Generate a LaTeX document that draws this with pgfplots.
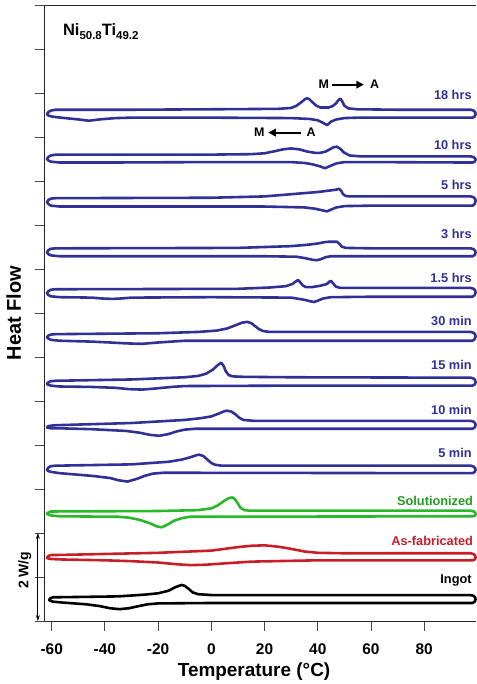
\documentclass[border=0pt]{standalone}
\usepackage{fontspec}
\setmainfont{Liberation Sans}
\usepackage{pgfplots}
\pgfplotsset{compat=1.18}
\usetikzlibrary{arrows.meta}
\definecolor{DscBlue}{RGB}{48,48,150}
\definecolor{DscGreen}{RGB}{40,185,40}
\definecolor{DscRed}{RGB}{200,30,40}
\definecolor{TickGray}{RGB}{70,70,70}

\begin{document}
\begin{tikzpicture}
\begin{axis}[
    scale only axis, width=433pt, height=618pt,
    xmin=-62.62, xmax=99.6, ymin=0, ymax=14,
    axis x line*=bottom, axis y line*=left,
    xtick={-60,-40,-20,0,20,40,60,80},
    xticklabels={-60,-40,-20,0,20,40,60,80},
    ytick={0,1,...,14}, yticklabels={},
    xtick pos=left, ytick pos=left,
    tick align=outside, major tick length=10pt,
    tick style={TickGray, line width=0.9pt},
    axis line style={black!85, line width=0.9pt},
    xticklabel style={font=\bfseries\fontsize{15.5}{17}\selectfont, yshift=-9pt},
    xlabel={Temperature (°C)},
    xlabel style={font=\bfseries\fontsize{19}{22}\selectfont, at={(axis description cs:0.485,-0.0825)}, anchor=center},
    ylabel={Heat Flow},
    ylabel style={font=\bfseries\fontsize{20}{24}\selectfont, at={(axis description cs:-0.0716,0.5)}, anchor=center},
    clip=false,
    every axis plot/.append style={line width=2.6pt, line join=round, line cap=round},
]
% bounding frame of the whole figure
\path (axis cs:-79.43,14.114) rectangle (axis cs:99.66,-1.382);
% top frame line
\draw[black!85, line width=0.9pt] (rel axis cs:0,1) -- (rel axis cs:1,1);

% 18 hrs
\addplot[DscBlue] coordinates {
(-61.8,11.52) (-61.2,11.57) (-60.3,11.60) (-58.5,11.62) (-30,11.62) (0,11.63) (25,11.64) (30,11.66) (32,11.71) (34,11.80) (35.2,11.86) (36,11.88) (36.8,11.86) (38,11.79) (39.5,11.71) (41,11.67) (44,11.67) (45.5,11.70) (46.8,11.76) (47.8,11.84) (48.5,11.87) (49.2,11.81) (50,11.71) (51.5,11.65) (55,11.63) (70,11.62) (97.5,11.62) (98.6,11.60) (99.2,11.56) (99.3,11.52) (99.0,11.47) (98.2,11.44) (97.5,11.44)
(70,11.44) (55,11.44) (50,11.43) (47,11.40) (45,11.35) (43.5,11.27) (42,11.32) (40,11.38) (37,11.41) (30,11.43) (0,11.44) (-30,11.44) (-36,11.43) (-42,11.40) (-46,11.37) (-50,11.40) (-55,11.43) (-58,11.45) (-60.3,11.47) (-61.3,11.49) (-61.8,11.52)
};
% 10 hrs
\addplot[DscBlue] coordinates {
(-61.8,10.50) (-61.2,10.55) (-60.3,10.58) (-58.5,10.60) (0,10.60) (15,10.61) (20,10.63) (24,10.68) (27,10.72) (30,10.74) (33,10.72) (36,10.67) (39,10.64) (41,10.64) (43,10.67) (44.5,10.72) (46,10.77) (47.2,10.78) (48.5,10.73) (50,10.64) (52,10.58) (56,10.56) (97.5,10.56) (98.6,10.54) (99.2,10.51) (99.3,10.48) (99.0,10.44) (98.2,10.42) (97.5,10.42)
(60,10.43) (50,10.43) (47,10.40) (45,10.35) (42.7,10.29) (41,10.33) (38,10.38) (35,10.41) (30,10.43) (0,10.43) (-40,10.42) (-57,10.42) (-60.3,10.44) (-61.3,10.47) (-61.8,10.50)
};
% 5 hrs
\addplot[DscBlue] coordinates {
(-61.8,9.52) (-61.2,9.57) (-60.3,9.60) (-58.5,9.61) (0,9.62) (20,9.65) (30,9.70) (40,9.75) (44,9.78) (46.5,9.80) (48,9.82) (48.8,9.78) (49.5,9.70) (50.5,9.66) (52,9.65) (97.5,9.65) (98.6,9.63) (99.2,9.59) (99.3,9.54) (99.0,9.48) (98.2,9.44) (97.5,9.44)
(60,9.44) (50,9.43) (47,9.40) (45,9.35) (43.5,9.31) (42,9.33) (39,9.37) (35,9.40) (20,9.42) (-57,9.42) (-60.3,9.44) (-61.3,9.48) (-61.8,9.52)
};
% 3 hrs
\addplot[DscBlue] coordinates {
(-61.8,8.38) (-61.2,8.43) (-60.3,8.46) (-58.5,8.47) (10,8.48) (30,8.52) (36,8.55) (40,8.58) (42.5,8.61) (44,8.62) (47.2,8.62) (48.2,8.57) (49,8.51) (50.5,8.48) (60,8.47) (97.5,8.47) (98.6,8.45) (99.2,8.41) (99.3,8.37) (99.0,8.32) (98.2,8.29) (97.5,8.29)
(60,8.29) (45,8.29) (43,8.27) (41,8.22) (39.7,8.20) (38,8.21) (35,8.25) (32,8.28) (20,8.29) (-57,8.29) (-60.3,8.31) (-61.3,8.34) (-61.8,8.38)
};
% 1.5 hrs
\addplot[DscBlue] coordinates {
(-61.8,7.45) (-61.2,7.50) (-60.3,7.53) (-58.5,7.54) (10,7.55) (22,7.58) (28,7.61) (30.5,7.66) (31.8,7.72) (32.6,7.75) (33.4,7.70) (34.3,7.63) (35.5,7.59) (38,7.59) (41,7.62) (43.5,7.66) (44.3,7.71) (45,7.73) (45.8,7.67) (46.8,7.60) (48.5,7.57) (60,7.57) (97.5,7.57) (98.6,7.55) (99.2,7.51) (99.3,7.46) (99.0,7.41) (98.2,7.37) (97.5,7.37)
(60,7.37) (45,7.36) (42,7.33) (40,7.28) (38.6,7.25) (37,7.27) (35,7.30) (30,7.35) (0,7.36) (-30,7.35) (-34,7.33) (-37,7.32) (-41,7.33) (-45,7.35) (-57,7.36) (-60.3,7.38) (-61.3,7.41) (-61.8,7.45)
};
% 30 min
\addplot[DscBlue] coordinates {
(-61.8,6.45) (-61.2,6.49) (-60.3,6.51) (-58.5,6.52) (-20,6.54) (-5,6.57) (2,6.60) (6,6.65) (9,6.72) (11.5,6.78) (13.5,6.80) (15,6.77) (16.5,6.70) (18,6.63) (19.5,6.59) (22,6.57) (97.5,6.57) (98.6,6.55) (99.2,6.51) (99.3,6.46) (99.0,6.41) (98.2,6.37) (97.5,6.37)
(20,6.37) (-10,6.37) (-15,6.35) (-20,6.33) (-26,6.30) (-32,6.31) (-38,6.33) (-45,6.35) (-57,6.37) (-60.3,6.39) (-61.3,6.42) (-61.8,6.45)
};
% 15 min
\addplot[DscBlue] coordinates {
(-61.8,5.39) (-61.2,5.43) (-60.3,5.45) (-58.5,5.46) (-30,5.49) (-10,5.54) (-5,5.57) (-2,5.62) (0.5,5.71) (2.5,5.82) (3.7,5.87) (4.6,5.80) (5.4,5.68) (6.5,5.59) (8,5.56) (12,5.55) (30,5.54) (97.5,5.53) (98.6,5.51) (99.2,5.47) (99.3,5.42) (99.0,5.38) (98.2,5.35) (97.5,5.35)
(30,5.35) (-10,5.34) (-15,5.32) (-20,5.29) (-26,5.26) (-31,5.27) (-36,5.30) (-45,5.32) (-57,5.33) (-60.3,5.35) (-61.3,5.37) (-61.8,5.39)
};
% 10 min
\addplot[DscBlue] coordinates {
(-61.8,4.40) (-61.2,4.43) (-60.3,4.44) (-58.5,4.45) (-30,4.50) (-10,4.57) (-4,4.61) (0,4.65) (3,4.72) (5,4.77) (6,4.78) (7.5,4.76) (9,4.70) (10.5,4.62) (12,4.57) (16,4.55) (97.5,4.55) (98.6,4.53) (99.2,4.49) (99.3,4.45) (99.0,4.40) (98.2,4.37) (97.5,4.37)
(-6,4.37) (-10,4.35) (-13,4.31) (-16,4.25) (-19.5,4.21) (-23,4.23) (-27,4.28) (-32,4.32) (-45,4.36) (-57,4.38) (-60.3,4.38) (-61.3,4.39) (-61.8,4.40)
};
% 5 min
\addplot[DscBlue] coordinates {
(-61.8,3.44) (-61.2,3.49) (-60.3,3.52) (-58.5,3.53) (-30,3.56) (-16,3.62) (-11,3.67) (-8,3.72) (-5.5,3.77) (-4.5,3.78) (-3,3.75) (-1.5,3.67) (0,3.59) (1.5,3.55) (4,3.53) (97.5,3.53) (98.6,3.51) (99.2,3.47) (99.3,3.43) (99.0,3.39) (98.2,3.36) (97.5,3.36)
(-18,3.37) (-22,3.35) (-25,3.30) (-28,3.23) (-31.5,3.17) (-35,3.20) (-38,3.25) (-45,3.30) (-57,3.36) (-60.3,3.39) (-61.3,3.41) (-61.8,3.44)
};
% Solutionized
\addplot[DscGreen] coordinates {
(-61.8,2.44) (-61.2,2.47) (-60.3,2.49) (-58.5,2.49) (-20,2.50) (-5,2.52) (0,2.56) (2.5,2.63) (4.5,2.72) (6.5,2.79) (7.9,2.81) (9,2.76) (10,2.67) (11,2.57) (12.5,2.52) (14,2.51) (97.5,2.51) (98.6,2.49) (99.2,2.46) (99.3,2.42) (99.0,2.39) (98.2,2.38) (97.5,2.38)
(-8,2.37) (-11,2.34) (-14,2.28) (-16.5,2.19) (-18.7,2.13) (-20.5,2.15) (-23,2.22) (-27,2.30) (-31,2.35) (-35,2.37) (-57,2.38) (-60.3,2.40) (-61.3,2.42) (-61.8,2.44)
};
% As-fabricated
\addplot[DscRed] coordinates {
(-61.8,1.44) (-61.2,1.48) (-60.3,1.50) (-58.5,1.50) (-20,1.55) (0,1.60) (10,1.68) (15,1.71) (20,1.72) (25,1.69) (30,1.64) (35,1.58) (40,1.55) (50,1.54) (97.5,1.54) (98.6,1.52) (99.2,1.48) (99.3,1.44) (99.0,1.40) (98.2,1.38) (97.5,1.38)
(40,1.38) (15,1.35) (5,1.31) (-2,1.28) (-7.5,1.27) (-13,1.29) (-20,1.33) (-30,1.36) (-40,1.38) (-57,1.40) (-60.3,1.41) (-61.3,1.42) (-61.8,1.44)
};
% Ingot
\addplot[black] coordinates {
(-61.0,0.48) (-60.4,0.52) (-59.5,0.54) (-58,0.54) (-35,0.56) (-25,0.60) (-20,0.63) (-16,0.69) (-13.5,0.77) (-11.2,0.82) (-10,0.80) (-8.5,0.73) (-7,0.65) (-5,0.61) (0,0.59) (97.5,0.59) (98.6,0.57) (99.2,0.53) (99.3,0.49) (99.0,0.44) (98.2,0.41) (97.5,0.41)
(0,0.41) (-20,0.40) (-24,0.38) (-28,0.33) (-31,0.29) (-34.5,0.27) (-38,0.29) (-42,0.34) (-47,0.38) (-56,0.42) (-59.5,0.44) (-60.5,0.46) (-61.0,0.48)
};

% curve labels
\begin{scope}[every node/.style={anchor=east, font=\bfseries\fontsize{12.8}{14}\selectfont, inner sep=0pt}]
\node[text=DscBlue] at (axis cs:97.9,11.96) {18 hrs};
\node[text=DscBlue] at (axis cs:97.9,10.83) {10 hrs};
\node[text=DscBlue] at (axis cs:97.9,9.90) {5 hrs};
\node[text=DscBlue] at (axis cs:97.9,8.79) {3 hrs};
\node[text=DscBlue] at (axis cs:97.9,7.79) {1.5 hrs};
\node[text=DscBlue] at (axis cs:97.9,6.82) {30 min};
\node[text=DscBlue] at (axis cs:97.9,5.82) {15 min};
\node[text=DscBlue] at (axis cs:97.9,4.80) {10 min};
\node[text=DscBlue] at (axis cs:97.9,3.83) {5 min};
\node[text=DscGreen!85!black] at (axis cs:98.4,2.74) {Solutionized};
\node[text=DscRed] at (axis cs:98.4,1.81) {As-fabricated};
\node[text=black] at (axis cs:97.9,0.93) {Ingot};
\end{scope}

% composition
\node[anchor=west, inner sep=0pt, font=\bfseries\fontsize{16.5}{18}\selectfont] at (axis cs:-55.8,13.39)
  {Ni\raisebox{-4pt}{\fontsize{11.5}{12}\selectfont 50.8}Ti\raisebox{-4pt}{\fontsize{11.5}{12}\selectfont 49.2}};

% transformation arrows
\begin{scope}[every node/.style={font=\bfseries\fontsize{12.5}{14}\selectfont, inner sep=0pt}]
\node at (axis cs:42.3,12.19) {M};
\draw[line width=1.9pt, -{Triangle[length=7.5pt,width=7.5pt]}] (axis cs:45.3,12.19) -- (axis cs:57.3,12.19);
\node at (axis cs:61.4,12.19) {A};
\node at (axis cs:18.0,11.10) {M};
\draw[line width=1.9pt, -{Triangle[length=7.5pt,width=7.5pt]}] (axis cs:33.7,11.10) -- (axis cs:21.4,11.10);
\node at (axis cs:37.5,11.10) {A};
\end{scope}

% scale bar
\draw[line width=0.9pt, {Stealth[length=6pt,width=4pt]}-{Stealth[length=6pt,width=4pt]}] (axis cs:-65.2,0) -- (axis cs:-65.2,2);
\node[rotate=90, font=\bfseries\fontsize{14}{16}\selectfont] at (axis cs:-70.1,1.155) {2 W/g};
\end{axis}
\end{tikzpicture}
\end{document}
